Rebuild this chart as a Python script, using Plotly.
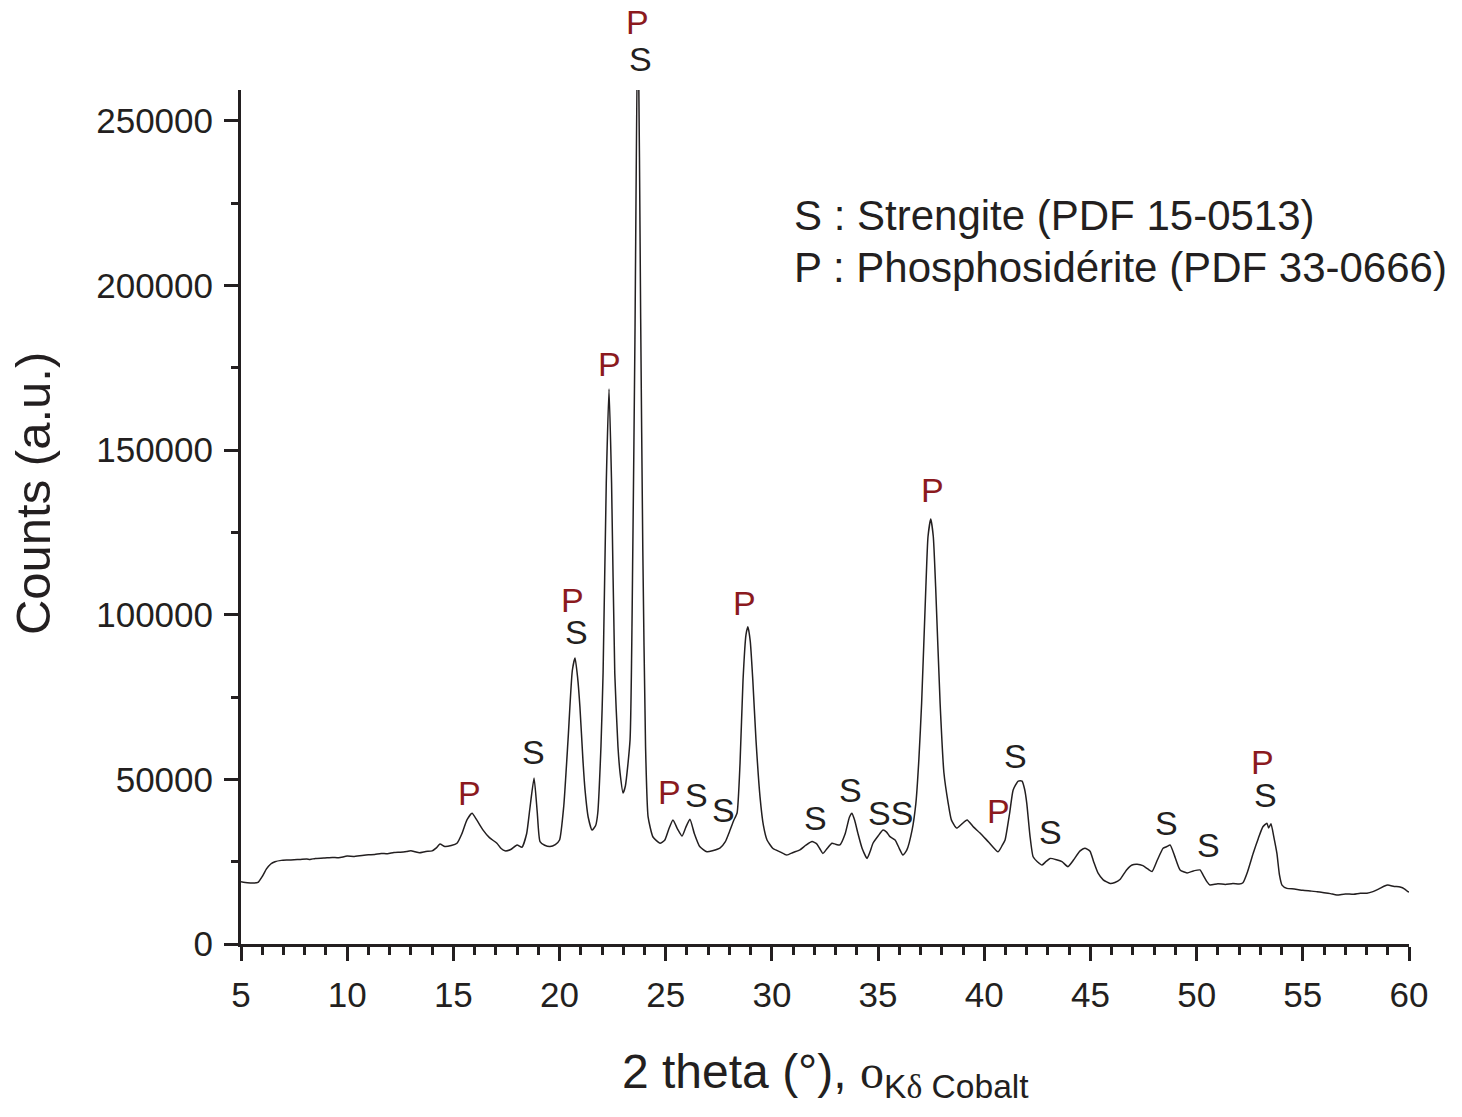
import plotly.graph_objects as go

# Diffraction pattern (Co K-alpha), 2-theta in degrees vs counts
two_theta = [
    5.0, 5.3, 5.6, 5.8, 6.0, 6.2, 6.4, 6.6, 6.9, 7.2, 7.5, 7.8, 8.1, 8.25, 8.5, 8.9,
    9.3, 9.6, 10.0, 10.3, 10.7, 11.0, 11.3, 11.6, 11.9, 12.2, 12.5, 12.8, 13.0, 13.2,
    13.4, 13.7, 14.0, 14.2, 14.37, 14.6, 14.9, 15.17, 15.4, 15.64, 15.88, 16.1, 16.4,
    16.7, 17.05, 17.25, 17.43, 17.7, 18.0, 18.23, 18.45, 18.6, 18.8, 18.95, 19.08,
    19.3, 19.55, 19.8, 20.0, 20.2, 20.4, 20.6, 20.73, 20.85, 20.96, 21.1, 21.2, 21.35,
    21.53, 21.7, 21.8, 21.95, 22.05, 22.2, 22.33, 22.45, 22.6, 22.75, 22.85, 22.99,
    23.1, 23.32, 23.45, 23.55, 23.69, 23.82, 23.92, 24.05, 24.17, 24.4, 24.73, 24.95,
    25.15, 25.34, 25.55, 25.77, 25.95, 26.14, 26.35, 26.6, 26.94, 27.2, 27.55, 27.8,
    28.03, 28.2, 28.36, 28.5, 28.64, 28.78, 28.87, 28.98, 29.1, 29.25, 29.44, 29.6,
    29.77, 30.05, 30.38, 30.7, 31.0, 31.32, 31.6, 31.89, 32.1, 32.25, 32.4, 32.6,
    32.83, 33.0, 33.2, 33.45, 33.65, 33.77, 33.9, 34.05, 34.25, 34.48, 34.62, 34.76,
    35.0, 35.23, 35.4, 35.56, 35.8, 36.0, 36.17, 36.35, 36.6, 36.78, 36.92, 37.05,
    37.25, 37.35, 37.48, 37.6, 37.71, 37.92, 38.1, 38.3, 38.45, 38.7, 38.95, 39.19,
    39.5, 39.8, 40.2, 40.65, 40.85, 40.98, 41.2, 41.36, 41.6, 41.78, 41.9, 42.0,
    42.15, 42.3, 42.5, 42.72, 42.9, 43.1, 43.4, 43.66, 43.94, 44.2, 44.5, 44.74,
    44.98, 45.15, 45.36, 45.6, 45.93, 46.15, 46.39, 46.7, 46.96, 47.2, 47.47, 47.7,
    47.9, 48.15, 48.42, 48.6, 48.75, 48.95, 49.22, 49.55, 49.85, 50.16, 50.3, 50.5,
    50.63, 51.0, 51.35, 51.71, 52.0, 52.18, 52.4, 52.66, 52.9, 53.12, 53.31, 53.39,
    53.5, 53.65, 53.78, 53.9, 54.02, 54.25, 54.6, 55.0, 55.35, 55.67, 56.0, 56.3,
    56.6, 57.0, 57.4, 57.7, 58.02, 58.3, 58.6, 58.85, 59.0, 59.3, 59.58, 59.8, 59.95,
    60.0,
]
counts = [
    18900, 18600, 18500, 18700, 20500, 22800, 24300, 25000, 25400, 25500, 25600, 25700,
    25800, 25700, 26000, 26100, 26300, 26200, 26700, 26600, 26900, 27100, 27200, 27500,
    27400, 27800, 27900, 28100, 28300, 28000, 27700, 28100, 28300, 29200, 30400, 29600,
    29900, 30600, 33500, 37700, 39700, 37700, 34600, 32300, 30600, 29000, 28300, 28700,
    30100, 29400, 33500, 41000, 50400, 40000, 31100, 30000, 29600, 30200, 31600, 42000,
    62000, 83000, 86900, 81000, 72000, 56000, 46800, 38500, 34600, 36000, 39800, 60000,
    82300, 140000, 168600, 140000, 82300, 60000, 52000, 45900, 48000, 62000, 120000,
    183500, 290000, 190000, 120000, 60000, 38600, 32500, 30600, 31500, 35000, 37700,
    35000, 32800, 35500, 37900, 33500, 29600, 28000, 28300, 29100, 31000, 34600, 37500,
    39800, 55000, 80200, 94000, 96400, 92000, 80200, 62000, 44700, 36000, 31600, 29000,
    28000, 27000, 27800, 28600, 30000, 31100, 30500, 29000, 27500, 29000, 30600, 30300,
    30100, 33500, 38500, 39700, 37500, 33600, 29000, 26000, 28000, 30600, 32800, 34600,
    34000, 32600, 31600, 29000, 27000, 28500, 34600, 42800, 56000, 73200, 108500,
    123700, 129100, 123700, 108500, 73200, 52000, 42800, 37700, 35200, 36500, 37700,
    35500, 33700, 31000, 28000, 30000, 31600, 40000, 46800, 49500, 49500, 47000, 42800,
    33000, 26500, 25000, 24000, 25000, 26000, 25600, 25000, 23500, 25500, 28200, 29100,
    28200, 25000, 21500, 19500, 18400, 18700, 19600, 22500, 24000, 24200, 23800, 22800,
    22000, 25500, 29100, 29600, 30100, 27000, 22500, 21600, 22200, 22500, 21000, 18800,
    17900, 18300, 18100, 18400, 18200, 18600, 22000, 27500, 32000, 35600, 36700, 35200,
    36500, 32000, 27500, 21000, 17900, 16900, 16700, 16300, 16100, 15900, 15600, 15300,
    14900, 15200, 15100, 15400, 15400, 15900, 16800, 17600, 17900, 17500, 17300, 16700,
    15900, 15800,
]

# Phase labels inside the plot: text, 2-theta position, height
label_text = ["P", "S", "P", "S", "P", "P", "S", "S", "P", "S", "S", "SS",
              "P", "P", "S", "S", "S", "S", "P", "S"]
label_x = [15.78, 18.75, 20.59, 20.78, 22.33, 25.2, 26.47, 27.7, 28.73,
           32.03, 33.68, 35.6, 37.54, 40.69, 41.49, 43.1, 48.6, 50.54, 53.12, 53.22]
label_y = [45900, 58300, 104500, 94800, 176200, 46200, 45300, 40700,
           103600, 38300, 46800, 39800, 137900, 40400, 57100, 34000, 36800, 30100,
           55300, 45300]

# Labels of the strongest reflection, set above the top of the axis
top_text = ["P", "S"]
top_x = [23.69, 23.79]
top_y_paper = [1.0796, 1.0363]

legend_lines = ["S : Strengite (PDF 15-0513)", "P : Phosphosidérite (PDF 33-0666)"]

INK = "#231f20"
RED = "#8b1a1e"
FONT = "Liberation Sans, Arial, sans-serif"

fig = go.Figure()
fig.add_trace(go.Scatter(
    x=two_theta, y=counts, mode="lines",
    line=dict(color=INK, width=1.5, shape="spline", smoothing=0.5),
    showlegend=False, hoverinfo="x+y",
))

annotations = []
for t, x, y in zip(label_text, label_x, label_y):
    annotations.append(dict(
        x=x, y=y, xref="x", yref="y", text=t, showarrow=False,
        xanchor="center", yanchor="middle",
        font=dict(family=FONT, size=34, color=RED if t == "P" else INK),
    ))
for t, x, y in zip(top_text, top_x, top_y_paper):
    annotations.append(dict(
        x=x, y=y, xref="x", yref="paper", text=t, showarrow=False,
        xanchor="center", yanchor="middle",
        font=dict(family=FONT, size=34, color=RED if t == "P" else INK),
    ))

for i, line in enumerate(legend_lines):
    annotations.append(dict(
        x=(792 - 241) / 1168, y=[0.8536, 0.7927][i], xref="paper", yref="paper",
        text=line, showarrow=False, xanchor="left", yanchor="middle",
        font=dict(family=FONT, size=42, color=INK),
    ))

# Axis titles
annotations.append(dict(
    x=-0.178, y=0.527, xref="paper", yref="paper", text="Counts (a.u.)",
    textangle=-90, showarrow=False, xanchor="center", yanchor="middle",
    font=dict(family=FONT, size=49, color=INK),
))
annotations.append(dict(
    x=0.5, y=-0.153, xref="paper", yref="paper",
    text=("2 theta (°), <span style='font-family:Liberation Serif'>ο</span>"
          "<sub>K<span style='font-family:Liberation Serif'>δ</span> Cobalt</sub>"),
    showarrow=False, xanchor="center", yanchor="middle",
    font=dict(family=FONT, size=48, color=INK),
))

axis_common = dict(
    showline=True, linecolor=INK, linewidth=3, mirror=False,
    ticks="outside", tickcolor=INK, tickwidth=2.5, ticklen=14,
    showgrid=False, zeroline=False, ticklabelstandoff=4,
    tickfont=dict(family=FONT, size=35, color=INK),
)

fig.update_layout(
    width=1462, height=1117,
    margin=dict(l=241, r=53, t=90, b=173),
    paper_bgcolor="white", plot_bgcolor="white",
    xaxis=dict(range=[5, 60], dtick=5, tick0=5,
               minor=dict(dtick=1, ticklen=8, tickwidth=2.5, tickcolor=INK, ticks="outside"),
               **axis_common),
    yaxis=dict(range=[0, 259400], dtick=50000, tickformat="d",
               minor=dict(dtick=25000, ticklen=7, tickwidth=2.5, tickcolor=INK, ticks="outside"),
               **axis_common),
    annotations=annotations,
)

fig.write_html("out.html")
